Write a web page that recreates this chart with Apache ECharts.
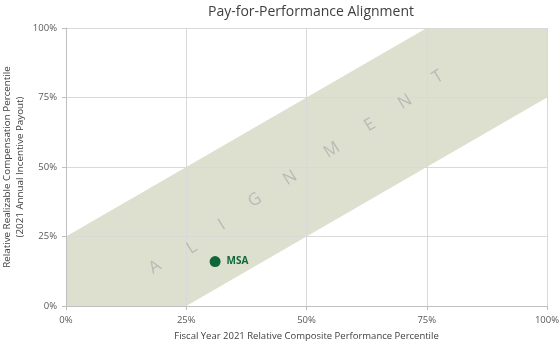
<!DOCTYPE html>
<html><head><meta charset="utf-8">
<script src="https://cdn.jsdelivr.net/npm/echarts@6/dist/echarts.min.js"></script>
<style>html,body{margin:0;padding:0;background:#fff}#c{width:560px;height:344px}</style>
</head><body><div id="c"></div>
<script>
// Alignment band polygon (x = performance percentile, y = pay percentile)
var bandX = [0, 0, 75, 100, 100, 25];
var bandY = [0, 25, 100, 100, 75, 0];
// Company point
var companyNames = ['MSA'];
var companyX = [31];
var companyY = [16];
// "ALIGNMENT" watermark letters and their anchor points
var letters = ['A','L','I','G','N','M','E','N','T'];
var letterX = [18.5, 26.2, 32.4, 39.3, 46.6, 55.3, 63.2, 70.5, 77.3];
var letterY = [14.0, 20.9, 29.1, 38.1, 46.0, 56.1, 65.1, 73.4, 82.4];
// Axis ticks
var tickValues = [0, 25, 50, 75, 100];

var bandData = bandX.map(function(x,i){return [x, bandY[i]];});
var letterData = letters.map(function(l,i){return [letterX[i], letterY[i], l];});
var pointData = companyNames.map(function(n,i){return [companyX[i], companyY[i], n];});
var font = '"Open Sans", sans-serif';

var chart = echarts.init(document.getElementById('c'), null, {renderer:'canvas'});
chart.setOption({
  animation:false,
  title:{text:'Pay-for-Performance Alignment', left:306, textAlign:'center', top:0,
    textStyle:{fontFamily:font, fontSize:14, fontWeight:'normal', color:'#404040'}},
  grid:{left:66, right:13, top:28, bottom:38, containLabel:false, outerBoundsMode:'none'},
  xAxis:{type:'value', min:0, max:100, interval:25, z:5,
    name:'Fiscal Year 2021 Relative Composite Performance Percentile',
    nameLocation:'middle', nameGap:25, nameMoveOverlap:false,
    nameTextStyle:{fontFamily:font, fontSize:9.5, color:'#404040'},
    axisLine:{lineStyle:{color:'#bfbfbf'}},
    axisTick:{show:true, length:4, lineStyle:{color:'#bfbfbf'}},
    axisLabel:{fontFamily:font, fontSize:9.5, color:'#595959', margin:9, formatter:function(v){return v+'%';}},
    splitLine:{show:true, lineStyle:{color:'#d9d9d9'}}},
  yAxis:{type:'value', min:0, max:100, interval:25, z:5,
    name:'Relative Realizable Compensation Percentile\n(2021 Annual Incentive Payout)',
    nameLocation:'middle', nameGap:39, nameMoveOverlap:false,
    nameTextStyle:{fontFamily:font, fontSize:9.8, color:'#404040', lineHeight:13},
    axisLine:{show:true, lineStyle:{color:'#bfbfbf'}},
    axisTick:{show:true, length:4, lineStyle:{color:'#bfbfbf'}},
    axisLabel:{fontFamily:font, fontSize:9.5, color:'#595959', margin:9, formatter:function(v){return v+'%';}},
    splitLine:{show:true, lineStyle:{color:'#d9d9d9'}}},
  series:[
    {type:'custom', z:1, data:[0], silent:true,
      renderItem:function(params, api){
        var pts = bandData.map(function(p){return api.coord(p);});
        return {type:'polygon', shape:{points:pts}, style:{fill:'#dde0cf'}};
      }},
    {type:'scatter', z:6, data:letterData, symbolSize:0, silent:true,
      label:{show:true, position:'inside', rotate:32,
        formatter:function(p){return p.value[2];},
        fontFamily:font, fontSize:17, color:'#b0b0b0'}},
    {type:'scatter', z:10, data:pointData, symbolSize:11,
      itemStyle:{color:'#10683a', opacity:1},
      label:{show:true, position:'right', distance:6,
        formatter:function(p){return p.value[2];},
        fontFamily:font, fontSize:10, fontWeight:'bold', color:'#10683a'}}
  ]
});
</script></body></html>
